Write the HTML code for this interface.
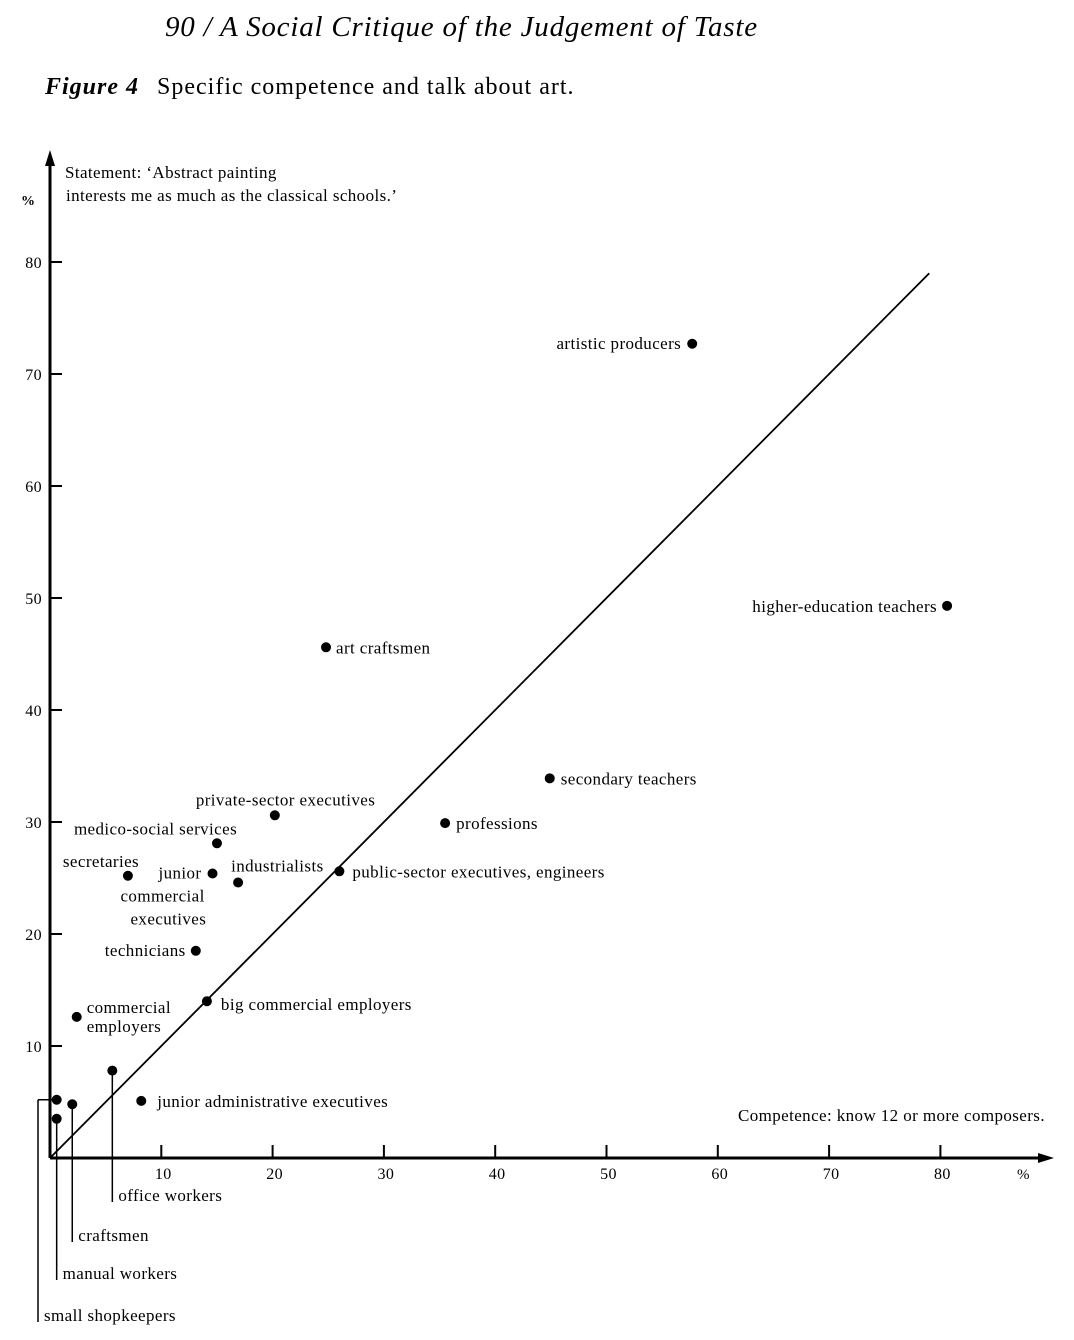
<!DOCTYPE html>
<html><head><meta charset="utf-8"><style>
body{margin:0;background:#fff}
svg{display:block;font-family:"Liberation Serif",serif}
svg text{letter-spacing:0.4px}
</style></head><body>
<svg id="c" width="1074" height="1340">
<text x="165" y="36" font-size="29" font-style="italic" style="letter-spacing:0.8px">90 / A Social Critique of the Judgement of Taste</text>
<text x="45" y="94" font-size="24" style="letter-spacing:1px"><tspan font-style="italic" font-weight="bold">Figure 4</tspan><tspan dx="18">Specific competence and talk about art.</tspan></text>
<text x="65" y="178" font-size="17">Statement: ‘Abstract painting</text>
<text x="66" y="201" font-size="17">interests me as much as the classical schools.’</text>
<text x="21" y="205" font-size="14" font-weight="bold">%</text>
<text x="738" y="1121" font-size="17">Competence: know 12 or more composers.</text>
<text x="1017" y="1179" font-size="15">%</text>
<g id="g"></g>
</svg>
<script>
const xTicks=[10,20,30,40,50,60,70,80];
const yTicks=[10,20,30,40,50,60,70,80];
const names=["artistic producers","higher-education teachers","art craftsmen","secondary teachers","professions","private-sector executives","medico-social services","secretaries","junior commercial executives","industrialists","public-sector executives, engineers","technicians","big commercial employers","commercial employers","office workers","junior administrative executives","craftsmen","manual workers","small shopkeepers"];
const xVals=[57.7,80.6,24.8,44.9,35.5,20.2,15.0,7.0,14.6,16.9,26.0,13.1,14.1,2.4,5.6,8.2,2.0,0.6,0.6];
const yVals=[72.7,49.3,45.6,33.9,29.9,30.6,28.1,25.2,25.4,24.6,25.6,18.5,14.0,12.6,7.8,5.1,4.8,3.5,5.2];
const X=v=>50+v*11.13, Y=v=>1158-v*11.2;
const NS="http://www.w3.org/2000/svg", g=document.getElementById('g');
function mk(t,a,txt){const e=document.createElementNS(NS,t);for(const k in a)e.setAttribute(k,a[k]);if(txt)e.textContent=txt;g.appendChild(e);return e;}
let e;
e=mk('line',{x1:50,y1:1158,x2:50,y2:160,stroke:'#000','stroke-width':3});


e=mk('polygon',{points:'50,150 45,166 55,166'});


e=mk('line',{x1:50,y1:1158,x2:1042,y2:1158,stroke:'#000','stroke-width':3});


e=mk('polygon',{points:'1054,1158 1038,1153 1038,1163'});


e=mk('line',{x1:X(0),y1:Y(0),x2:X(79),y2:Y(79),stroke:'#000','stroke-width':1.8});


xTicks.forEach(t=>{
 e=mk('line',{x1:X(t),y1:1158,x2:X(t),y2:1145,stroke:'#000','stroke-width':2});
 
 
 e=mk('text',{x:X(t)+2,y:1179,'font-size':16,'text-anchor':'middle'},String(t));
 
 
});
yTicks.forEach(t=>{
 e=mk('line',{x1:50,y1:Y(t),x2:62,y2:Y(t),stroke:'#000','stroke-width':2});
 
 
 e=mk('text',{x:42,y:Y(t)+6,'font-size':16,'text-anchor':'end'},String(t));
 
 
});
const lab=[[-11,5,'end'],[-10,6,'end'],[10,6,'start'],[11,6,'start'],[11,6,'start'],[-79,-10,'start'],[-143,-9,'start'],[-65,-9,'start'],[-54,5,'start'],[-7,-11,'start'],[13,6,'start'],[-91,5,'start'],[14,9,'start'],[10,-4,'start'],null,[16,6,'start'],null,null,null];
names.forEach((n,i)=>{
 const cx=X(xVals[i]),cy=Y(yVals[i]);
 e=mk('circle',{cx:cx,cy:cy,r:5});
 
 
 const l=lab[i];
 if(l){
  if(n==='junior commercial executives'){
   ['junior','commercial','executives'].forEach((w,k)=>{e=mk('text',{x:cx+[-54,-92,-82][k],y:cy+5+k*23,'font-size':17},w);
    
    });
  } else if(n==='commercial employers'){
   ['commercial','employers'].forEach((w,k)=>{e=mk('text',{x:cx+10,y:cy-4+k*19,'font-size':17},w);
    
    });
  } else {
   e=mk('text',{x:cx+l[0],y:cy+l[1],'font-size':17,'text-anchor':l[2]},n);
   
   
  }
 } else {
  let lx=cx, bottom={ 'office workers':1202,'craftsmen':1242,'manual workers':1280,'small shopkeepers':1322}[n];
  if(n==='small shopkeepers'){lx=38;e=mk('line',{x1:38,y1:cy,x2:cx,y2:cy,stroke:'#000','stroke-width':1.5});
   
   }
  e=mk('line',{x1:lx,y1:cy,x2:lx,y2:bottom,stroke:'#000','stroke-width':1.5});
  
  
  e=mk('text',{x:lx+6,y:bottom-1,'font-size':17},n);
  
  
 }
});
</script>
</body></html>
